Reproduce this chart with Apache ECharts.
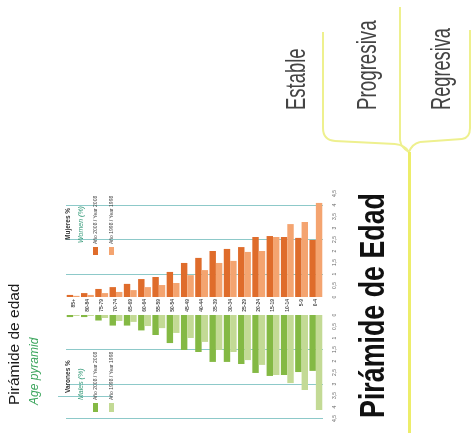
<!DOCTYPE html>
<html>
<head>
<meta charset="utf-8">
<script src="https://cdn.jsdelivr.net/npm/echarts@6.0.0/dist/echarts.min.js"></script>
<style>
html,body{margin:0;padding:0;background:#fff;}
#c{width:471px;height:433px;}
</style>
</head>
<body>
<div id="c"></div>
<script>
// Age groups (oldest first: slide is rotated, pyramid top is on the left)
const categories = ['85+','80-84','75-79','70-74','65-69','60-64','55-59','50-54','45-49','40-44','35-39','30-34','25-29','20-24','15-19','10-14','5-9','0-4'];
// Women (%), upper half
const women2008 = [0.09,0.17,0.35,0.43,0.57,0.78,0.87,1.09,1.48,1.70,2.00,2.09,2.17,2.61,2.65,2.61,2.57,2.48];
const women1998 = [0.05,0.09,0.17,0.22,0.30,0.43,0.52,0.61,0.95,1.17,1.48,1.57,1.96,2.00,2.61,3.17,3.26,4.09];
// Men (%), lower half
const men2008 = [0.09,0.09,0.24,0.46,0.46,0.67,0.87,1.22,1.52,1.61,2.04,2.04,2.13,2.52,2.65,2.61,2.48,2.43];
const men1998 = [0.04,0.04,0.13,0.26,0.30,0.48,0.57,0.78,1.00,1.17,1.52,1.61,1.96,2.17,2.61,2.96,3.26,4.13];
// Legend / text labels
const seriesNames = ['Año 2008 / Year 2008','Año 1998 / Year 1998'];
const branchLabels = ['Estable','Progresiva','Regresiva'];

const C_OR = '#DF6C2B', C_OR_L = '#F4A470', C_GR = '#84B944', C_GR_L = '#C3DA95';
const GRIDC = '#8DC9C9';

function vt(text, x, y, size, o) {
  o = o || {};
  return {
    type: 'text', x: x, y: y, rotation: Math.PI / 2,
    scaleX: o.sx || 1, z: 10,
    style: {
      text: text, fontSize: size,
      fontFamily: o.family || 'Liberation Sans, Arial, sans-serif',
      fontWeight: o.weight || 'normal',
      fontStyle: o.style || 'normal',
      fill: o.fill || '#222',
      align: 'left', verticalAlign: 'middle'
    }
  };
}
const pctFmt = v => (v === 0 ? '0' : String(v).replace('.', ','));
const yellow = { stroke: '#EEF08E', lineWidth: 2 };

const chart = echarts.init(document.getElementById('c'), null, {renderer: 'canvas'});
chart.setOption({
  animation: false,
  backgroundColor: '#fff',
  grid: [
    {left: 66, top: 193.5, width: 257, height: 115},
    {left: 66, top: 315, width: 257, height: 103.5}
  ],
  xAxis: [
    {gridIndex: 0, type: 'category', data: categories,
     axisLine: {show: false}, axisTick: {show: false}, axisLabel: {show: false}},
    {gridIndex: 1, type: 'category', data: categories, position: 'top',
     axisLine: {show: false}, axisTick: {show: false}, axisLabel: {show: false}}
  ],
  yAxis: [
    {gridIndex: 0, type: 'value', min: -0.5, max: 4.5, interval: 0.5, position: 'right',
     splitLine: {show: false}, axisLine: {show: false}, axisTick: {show: false},
     axisLabel: {rotate: 90, fontSize: 5, color: '#666', margin: 9, showMinLabel: false, formatter: pctFmt}},
    {gridIndex: 0, type: 'value', min: 0, max: 10, interval: 3, position: 'left',
     axisLine: {show: false}, axisTick: {show: false}, axisLabel: {show: false},
     splitLine: {show: true, showMinLine: false, showMaxLine: false, lineStyle: {color: GRIDC, width: 1}}},
    {gridIndex: 1, type: 'value', min: 0, max: 4.5, interval: 0.5, inverse: true, position: 'right',
     splitLine: {show: false}, axisLine: {show: false}, axisTick: {show: false},
     axisLabel: {rotate: 90, fontSize: 5, color: '#666', margin: 9, formatter: pctFmt}},
    {gridIndex: 1, type: 'value', min: 0, max: 4.5, interval: 1.5, inverse: true, position: 'left',
     axisLine: {show: false}, axisTick: {show: false}, axisLabel: {show: false},
     splitLine: {show: true, showMinLine: false, showMaxLine: true, lineStyle: {color: GRIDC, width: 1}}}
  ],
  series: [
    {name: 'Mujeres ' + seriesNames[0], type: 'bar', xAxisIndex: 0, yAxisIndex: 0, data: women2008,
     itemStyle: {color: C_OR}, barGap: '0%', barCategoryGap: '10%'},
    {name: 'Mujeres ' + seriesNames[1], type: 'bar', xAxisIndex: 0, yAxisIndex: 0, data: women1998,
     itemStyle: {color: C_OR_L}, barGap: '0%', barCategoryGap: '10%'},
    {name: 'Varones ' + seriesNames[0], type: 'bar', xAxisIndex: 1, yAxisIndex: 2, data: men2008,
     itemStyle: {color: C_GR}, barGap: '0%', barCategoryGap: '10%'},
    {name: 'Varones ' + seriesNames[1], type: 'bar', xAxisIndex: 1, yAxisIndex: 2, data: men1998,
     itemStyle: {color: C_GR_L}, barGap: '0%', barCategoryGap: '10%'},
    // age-group labels in the central column
    {name: 'Edad', type: 'scatter', xAxisIndex: 0, yAxisIndex: 0, silent: true,
     symbol: 'circle', symbolSize: 0, z: 5,
     data: categories.map(c => [c, 0]),
     label: {show: true, position: [0, 2], rotate: 90, align: 'right', verticalAlign: 'middle',
             fontSize: 5, fontWeight: 'bold', color: '#222', fontFamily: 'Liberation Sans',
             formatter: p => p.value[0]}}
  ],
  graphic: [
    // left titles
    vt('Pirámide de edad', 15, 405, 15.5, {fill: '#1a1a1a'}),
    vt('Age pyramid', 35, 405, 12, {style: 'italic', fill: '#3BA55C'}),
    // upper legend (women)
    vt('Mujeres %', 68, 240, 6.5, {weight: 'bold', fill: '#333'}),
    vt('Women (%)', 81, 243, 7, {style: 'italic', fill: '#3A9C7C'}),
    {type: 'rect', shape: {x: 93, y: 247, width: 5, height: 8}, style: {fill: C_OR}, z: 10},
    vt(seriesNames[0], 95.5, 244, 5, {fill: '#444'}),
    {type: 'rect', shape: {x: 109, y: 247, width: 5, height: 8}, style: {fill: C_OR_L}, z: 10},
    vt(seriesNames[1], 111.5, 244, 5, {fill: '#444'}),
    // lower legend (men)
    vt('Varones %', 68, 393, 6.5, {weight: 'bold', fill: '#333'}),
    vt('Males (%)', 81, 400, 7, {style: 'italic', fill: '#3A9C7C'}),
    {type: 'rect', shape: {x: 93, y: 403, width: 5, height: 9}, style: {fill: C_GR}, z: 10},
    vt(seriesNames[0], 95.5, 400, 5, {fill: '#444'}),
    {type: 'rect', shape: {x: 109, y: 403, width: 5, height: 9}, style: {fill: C_GR_L}, z: 10},
    vt(seriesNames[1], 111.5, 400, 5, {fill: '#444'}),
    {type: 'line', shape: {x1: 58, y1: 396.5, x2: 112, y2: 396.5}, style: {stroke: GRIDC, lineWidth: 1}},
    // big title
    vt('Pirámide de Edad', 374, 418, 35, {weight: 'bold', fill: '#111', sx: 0.766}),
    // branch labels
    vt(branchLabels[0], 297, 110, 28, {fill: '#444', sx: 0.66}),
    vt(branchLabels[1], 368, 110, 28, {fill: '#444', sx: 0.67}),
    vt(branchLabels[2], 442, 110, 28, {fill: '#444', sx: 0.65}),
    // yellow brace
    {type: 'line', shape: {x1: 323, y1: 32, x2: 323, y2: 128}, style: yellow},
    {type: 'bezierCurve', shape: {x1: 323, y1: 128, cpx1: 323, cpy1: 140, x2: 335, y2: 141}, style: yellow},
    {type: 'line', shape: {x1: 335, y1: 141, x2: 395, y2: 144}, style: yellow},
    {type: 'bezierCurve', shape: {x1: 395, y1: 144, cpx1: 405, cpy1: 145, x2: 409, y2: 152}, style: yellow},
    {type: 'line', shape: {x1: 400, y1: 7, x2: 400, y2: 140}, style: yellow},
    {type: 'bezierCurve', shape: {x1: 400, y1: 140, cpx1: 401, cpy1: 148, x2: 409, y2: 152}, style: yellow},
    {type: 'bezierCurve', shape: {x1: 409, y1: 152, cpx1: 412, cpy1: 144, x2: 420, y2: 142}, style: yellow},
    {type: 'line', shape: {x1: 420, y1: 142, x2: 462, y2: 139}, style: yellow},
    {type: 'bezierCurve', shape: {x1: 462, y1: 139, cpx1: 470, cpy1: 138, x2: 470, y2: 128}, style: yellow},
    {type: 'line', shape: {x1: 470, y1: 128, x2: 470, y2: 30}, style: yellow},
    {type: 'line', shape: {x1: 409.5, y1: 152, x2: 409.5, y2: 433}, style: {stroke: '#EDED6A', lineWidth: 3}}
  ]
});
</script>
</body>
</html>
